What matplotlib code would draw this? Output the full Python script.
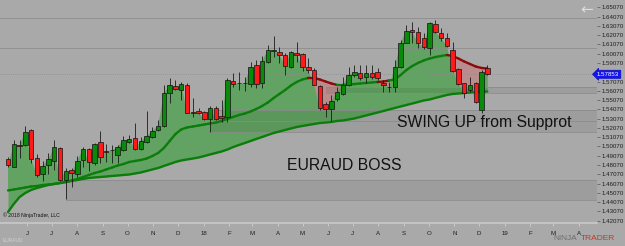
import numpy as np
import pandas as pd
import matplotlib
matplotlib.use("Agg")
import matplotlib.pyplot as plt
import matplotlib.dates as mdates
import matplotlib.transforms as mtrans
from matplotlib.collections import LineCollection

plt.rcParams['font.family'] = ['Liberation Sans', 'DejaVu Sans']

# ── data (EURAUD weekly) ──────────────────────────────────────────────────────
FIRST_WEEK = "2017-05-09"

OPEN = [1.4869, 1.4789, 1.5020, 1.5020, 1.5181, 1.4880, 1.4707, 1.4804, 1.4854, 1.4994,
        1.4646, 1.4753, 1.4710, 1.4861, 1.4976, 1.4832, 1.5055, 1.4961, 1.4969, 1.4912,
        1.4969, 1.5055, 1.5095, 1.4980, 1.5055, 1.5112, 1.5185, 1.5231, 1.5580, 1.5659,
        1.5616, 1.5670, 1.5375, 1.5393, 1.5382, 1.5300, 1.5425, 1.5339, 1.5328, 1.5716,
        1.5691, 1.5688, 1.5680, 1.5885, 1.5688, 1.5914, 1.6039, 1.6022, 1.5993, 1.5867,
        1.6011, 1.6000, 1.5860, 1.5831, 1.5659, 1.5465, 1.5411, 1.5515, 1.5573, 1.5670,
        1.5777, 1.5796, 1.5753, 1.5802, 1.5806, 1.5694, 1.5648, 1.5645, 1.5867, 1.6125,
        1.6262, 1.6244, 1.6173, 1.6072, 1.6327, 1.6227, 1.6179, 1.6047, 1.5839, 1.5688,
        1.5616, 1.5688, 1.5400, 1.5850]
HIGH = [1.4890, 1.5077, 1.5077, 1.5228, 1.5192, 1.4926, 1.4854, 1.4940, 1.5077, 1.5005,
        1.4772, 1.4772, 1.4904, 1.5005, 1.4987, 1.5041, 1.5177, 1.5034, 1.5023, 1.5023,
        1.5120, 1.5127, 1.5257, 1.5112, 1.5393, 1.5220, 1.5292, 1.5670, 1.5745, 1.5724,
        1.5705, 1.5688, 1.5526, 1.5422, 1.5393, 1.5446, 1.5443, 1.5508, 1.5742, 1.5796,
        1.5813, 1.5759, 1.5921, 1.5939, 1.5982, 1.6101, 1.6198, 1.6082, 1.6018, 1.6036,
        1.6136, 1.6011, 1.5957, 1.5850, 1.5670, 1.5490, 1.5562, 1.5651, 1.5759, 1.5867,
        1.5885, 1.5885, 1.5885, 1.5885, 1.5853, 1.5724, 1.5702, 1.5939, 1.6155, 1.6316,
        1.6352, 1.6298, 1.6227, 1.6352, 1.6370, 1.6281, 1.6227, 1.6136, 1.5850, 1.5694,
        1.5759, 1.5705, 1.5831, 1.5885]
LOW = [1.4782, 1.4782, 1.4883, 1.5012, 1.4832, 1.4681, 1.4638, 1.4707, 1.4753, 1.4638,
       1.4438, 1.4573, 1.4681, 1.4789, 1.4746, 1.4807, 1.4832, 1.4843, 1.4826, 1.4832,
       1.4961, 1.5041, 1.4969, 1.4969, 1.5048, 1.5095, 1.5177, 1.5220, 1.5472, 1.5616,
       1.5508, 1.5365, 1.5328, 1.5357, 1.5292, 1.5166, 1.5292, 1.5274, 1.5274, 1.5651,
       1.5616, 1.5608, 1.5651, 1.5634, 1.5634, 1.5903, 1.5975, 1.5903, 1.5777, 1.5858,
       1.5921, 1.5824, 1.5796, 1.5665, 1.5400, 1.5321, 1.5285, 1.5500, 1.5562, 1.5662,
       1.5759, 1.5724, 1.5694, 1.5731, 1.5724, 1.5597, 1.5594, 1.5597, 1.5850, 1.6119,
       1.6125, 1.6065, 1.6054, 1.5993, 1.6227, 1.6147, 1.6076, 1.5813, 1.5670, 1.5526,
       1.5597, 1.5479, 1.5371, 1.5780]
CLOSE = [1.4804, 1.5030, 1.5014, 1.5160, 1.4875, 1.4700, 1.4797, 1.4869, 1.4998, 1.4646,
         1.4746, 1.4718, 1.4854, 1.4980, 1.4843, 1.5030, 1.4890, 1.4951, 1.4964, 1.5005,
         1.5074, 1.5084, 1.4980, 1.5066, 1.5120, 1.5174, 1.5228, 1.5580, 1.5670, 1.5627,
         1.5680, 1.5371, 1.5371, 1.5371, 1.5300, 1.5425, 1.5300, 1.5317, 1.5724, 1.5680,
         1.5686, 1.5691, 1.5867, 1.5680, 1.5928, 1.6047, 1.6043, 1.5996, 1.5878, 1.6022,
         1.5996, 1.5860, 1.5831, 1.5670, 1.5418, 1.5408, 1.5497, 1.5591, 1.5670, 1.5777,
         1.5806, 1.5742, 1.5796, 1.5753, 1.5742, 1.5670, 1.5645, 1.5867, 1.6125, 1.6255,
         1.6244, 1.6119, 1.6076, 1.6335, 1.6244, 1.6173, 1.6090, 1.5820, 1.5680, 1.5580,
         1.5670, 1.5490, 1.5813, 1.5785]

MA_FAST = [1.4533, 1.4543, 1.4554, 1.4565, 1.4576, 1.4581, 1.4592, 1.4597, 1.4603, 1.4613,
           1.4624, 1.4640, 1.4657, 1.4678, 1.4700, 1.4721, 1.4737, 1.4759, 1.4780, 1.4802,
           1.4818, 1.4840, 1.4851, 1.4861, 1.4877, 1.4904, 1.4937, 1.4991, 1.5066, 1.5141,
           1.5190, 1.5212, 1.5222, 1.5233, 1.5244, 1.5255, 1.5265, 1.5282, 1.5303, 1.5325,
           1.5346, 1.5362, 1.5384, 1.5411, 1.5443, 1.5481, 1.5529, 1.5573, 1.5616, 1.5664,
           1.5702, 1.5729, 1.5745, 1.5745, 1.5729, 1.5707, 1.5686, 1.5670, 1.5670, 1.5675,
           1.5680, 1.5686, 1.5691, 1.5697, 1.5702, 1.5707, 1.5718, 1.5729, 1.5777, 1.5831,
           1.5874, 1.5907, 1.5934, 1.5955, 1.5971, 1.5982, 1.5993, 1.5982, 1.5955, 1.5923,
           1.5896, 1.5869, 1.5853, 1.5847]
MA_SLOW = [1.4301, 1.4387, 1.4462, 1.4506, 1.4538, 1.4559, 1.4576, 1.4592, 1.4603, 1.4613,
           1.4624, 1.4635, 1.4646, 1.4657, 1.4667, 1.4673, 1.4678, 1.4683, 1.4689, 1.4694,
           1.4700, 1.4705, 1.4716, 1.4727, 1.4743, 1.4759, 1.4775, 1.4797, 1.4818, 1.4840,
           1.4856, 1.4867, 1.4877, 1.4888, 1.4904, 1.4921, 1.4937, 1.4953, 1.4974, 1.5001,
           1.5023, 1.5044, 1.5066, 1.5088, 1.5109, 1.5131, 1.5152, 1.5168, 1.5185, 1.5201,
           1.5217, 1.5228, 1.5239, 1.5249, 1.5260, 1.5265, 1.5271, 1.5282, 1.5287, 1.5298,
           1.5309, 1.5325, 1.5341, 1.5357, 1.5373, 1.5389, 1.5406, 1.5422, 1.5438, 1.5454,
           1.5470, 1.5486, 1.5503, 1.5513, 1.5530, 1.5546, 1.5562, 1.5573, 1.5578, 1.5583,
           1.5589, 1.5594, 1.5594, 1.5600]

# horizontal zones: first candle of the zone, top and bottom price
ZONE_FROM = [0, 55, 35, 10]
ZONE_TOP = [1.6389, 1.5645, 1.5400, 1.4646]
ZONE_BOT = [1.6065, 1.5587, 1.5166, 1.4430]
ZONE_MID = [None, None, 1.5285, None]

MONTH_LABELS = ['J', 'J', 'A', 'S', 'O', 'N', 'D', '18', 'F', 'M', 'A', 'M',
                'J', 'J', 'A', 'S', 'O', 'N', 'D', '19', 'F', 'M', 'A']
FIRST_MONTH = "2017-06-01"
PRICE_TICK_FIRST, PRICE_TICK_LAST, PRICE_TICK_STEP = 1.42070, 1.65070, 0.01
LAST_PRICE = 1.57853

# ── colours ───────────────────────────────────────────────────────────────────
BG = '#a9a9a9'
UP, DOWN = '#0a8a0a', '#ff1a1a'
FILL_G, FILL_R = '#62a262', '#b98d8d'
LINE_G, LINE_R = '#0b7d0b', '#8c0a0a'

dates = pd.date_range(FIRST_WEEK, periods=len(CLOSE), freq='7D')
x = mdates.date2num(dates)
o, h, l, c = map(np.asarray, (OPEN, HIGH, LOW, CLOSE))
fast, slow = np.asarray(MA_FAST), np.asarray(MA_SLOW)

fig = plt.figure(figsize=(6.25, 2.46), dpi=100, facecolor=BG)
ax = fig.add_axes([0, 23.3/246, 597/625, 222.7/246], facecolor=BG)
x0, x1 = x[0] - 9.7, x[0] + 714
ax.set_xlim(x0, x1)
ax.set_ylim(1.41854, 1.65857)

# fills: price vs fast MA, fast vs slow MA
ax.fill_between(x, fast, slow, color=FILL_G, lw=0, zorder=1)
ax.fill_between(x, c, fast, where=c >= fast, interpolate=True, color=FILL_G, lw=0, zorder=1)
ax.fill_between(x, c, fast, where=c < fast, interpolate=True, color=FILL_R, lw=0, zorder=1)

# zones
for i0, top, bot, mid in zip(ZONE_FROM, ZONE_TOP, ZONE_BOT, ZONE_MID):
    xs = [x[i0] if i0 > 0 else x0, x1]
    ax.fill_between(xs, bot, top, color='black', alpha=0.07 if i0 > 0 else 0.0, lw=0, zorder=2)
    for yv in (top, bot):
        ax.plot(xs, [yv, yv], color='#8a8a8a', lw=0.7, alpha=0.8, zorder=2)
    if mid is not None:
        ax.plot(xs, [mid, mid], color='#8a8a8a', lw=0.7, alpha=0.8, zorder=2)

ax.axhline(LAST_PRICE, color='#8e8e8e', ls=(0, (1, 1.5)), lw=0.6, zorder=2)

# MA lines
ax.plot(x, slow, color=LINE_G, lw=1.7, zorder=3, solid_capstyle='round')
pts = np.column_stack([x, fast])
segs = np.stack([pts[:-1], pts[1:]], axis=1)
seg_cols = np.where(c[1:] < fast[1:], LINE_R, LINE_G)
ax.add_collection(LineCollection(segs, colors=seg_cols, linewidths=1.7, zorder=3, capstyle='round'))

# candles
ax.vlines(x, l, h, color='#1a1a1a', lw=0.6, zorder=4)
up = c >= o
body_w = 5.4
ax.bar(x[up], (c - o)[up], bottom=o[up], width=body_w, color=UP, edgecolor='#111111', lw=0.5, zorder=5)
ax.bar(x[~up], (o - c)[~up], bottom=c[~up], width=body_w, color=DOWN, edgecolor='#111111', lw=0.5, zorder=5)

# axes styling
for s in ax.spines.values():
    s.set_visible(False)
ax.axhline(ax.get_ylim()[0], color='#c9c9c9', lw=1.2, zorder=6, clip_on=False)
month_x = mdates.date2num(pd.date_range(FIRST_MONTH, periods=len(MONTH_LABELS), freq='MS'))
ax.set_xticks(month_x)
ax.set_xticklabels(MONTH_LABELS)
ax.tick_params(axis='x', length=2.5, width=0.6, color='#d0d0d0', pad=3.5, labelsize=4.4, labelcolor='#1e1e1e')
ax.yaxis.tick_right()
yt = np.arange(PRICE_TICK_FIRST, PRICE_TICK_LAST + 1e-6, PRICE_TICK_STEP)
ax.set_yticks(yt)
# the label under the current-price tag is hidden, as in the platform
ax.set_yticklabels(["" if abs(v - LAST_PRICE) < 0.005 else f"{v:.5f}" for v in yt])
ax.tick_params(axis='y', length=2, width=0.5, color='#555555', pad=1.5, labelsize=4.4, labelcolor='#1e1e1e')

# current price tag
tr = mtrans.blended_transform_factory(ax.transAxes, ax.transData)
ax.text(1.0, LAST_PRICE, "1.57853", transform=tr, ha='left', va='center', fontsize=4.4,
        color='white', zorder=10, clip_on=False,
        bbox=dict(boxstyle='larrow,pad=0.25', fc='#1414f0', ec='#0a0ac0', lw=0.5))

# annotations
ax.text(0.665, 0.448, "SWING UP from Supprot", transform=ax.transAxes, fontsize=11.3,
        color='#111111', va='center', ha='left', zorder=7)
ax.text(0.481, 0.259, "EURAUD BOSS", transform=ax.transAxes, fontsize=11.3,
        color='#111111', va='center', ha='left', zorder=7)
ax.text(0.005, 0.035, "\u00a9 2018 NinjaTrader, LLC", transform=ax.transAxes, fontsize=3.7,
        color='#111111', va='center', ha='left', zorder=7)

fig.text(3/625, 1 - 241/246, "EURAUD", fontsize=3.5, color='#d2d2d2', va='center', ha='left')
fig.text(553/625, 1 - 239/246, "NINJA", fontsize=6, color='#6e6e6e', va='center', ha='left')
fig.text(581/625, 1 - 239/246, "TRADER", fontsize=6, color='#c0392b', va='center', ha='left')
fig.text(587/625, 1 - 10/246, "\u2190", fontsize=11, color='#dcdcdc', va='center', ha='center',
         family=['DejaVu Sans'])

fig.savefig("out.png", dpi=100, facecolor=BG)
